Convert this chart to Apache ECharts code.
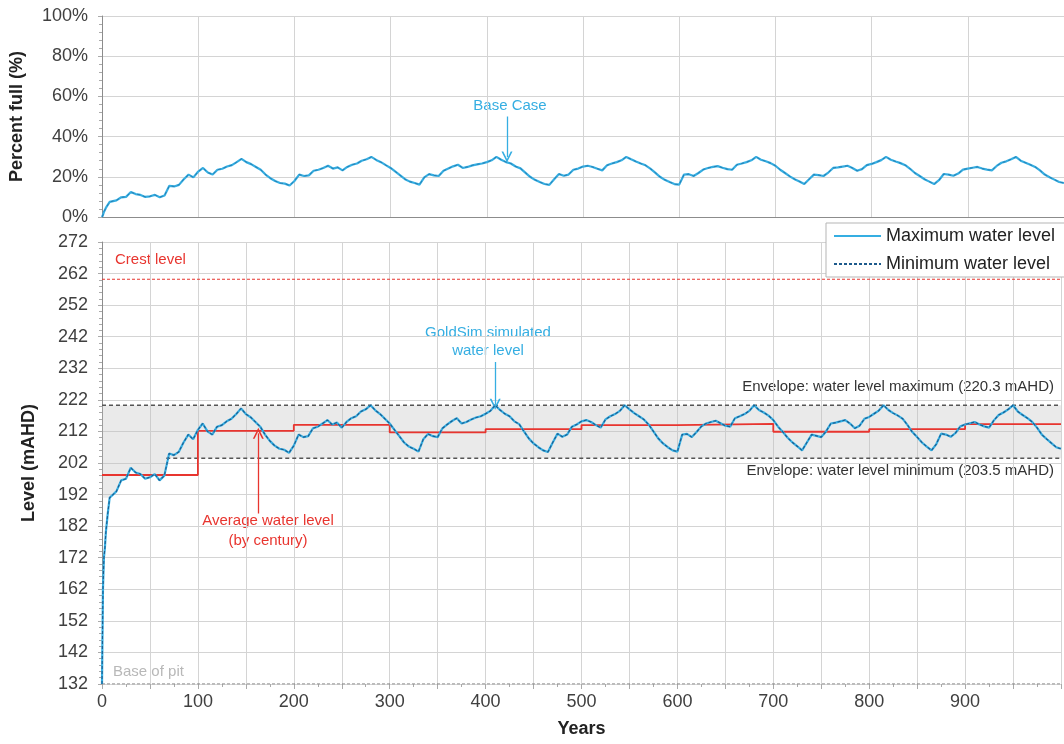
<!DOCTYPE html>
<html><head><meta charset="utf-8">
<script src="https://cdn.jsdelivr.net/npm/echarts@6/dist/echarts.min.js"></script>
<style>html,body{margin:0;padding:0;background:#fff}#c{width:1064px;height:744px}</style>
</head><body><div id="c"></div>
<script>
// ---------------- data ----------------
const years = [0,1,2,3,4,6,8,
10,15,20,25,30,35,40,45,50,55,60,65,70,75,80,85,90,95,
100,105,110,115,120,125,130,135,140,145,150,155,160,165,170,175,180,185,190,195,
200,205,210,215,220,225,230,235,240,245,250,255,260,265,270,275,280,285,290,295,
300,305,310,315,320,325,330,335,340,345,350,355,360,365,370,375,380,385,390,395,
400,405,410,415,420,425,430,435,440,445,450,455,460,465,470,475,480,485,490,495,
500,505,510,515,520,525,530,535,540,545,550,555,560,565,570,575,580,585,590,595,
600,605,610,615,620,625,630,635,640,645,650,655,660,665,670,675,680,685,690,695,
700,705,710,715,720,725,730,735,740,745,750,755,760,765,770,775,780,785,790,795,
800,805,810,815,820,825,830,835,840,845,850,855,860,865,870,875,880,885,890,895,
900,905,910,915,920,925,930,935,940,945,950,955,960,965,970,975,980,985,990,995,
1000];

const maxLevel = [132,162,172,175,180,186,191,
191.5,193,196.5,197,200.5,199,198.5,197,197.5,198.5,196.5,198,205,204.5,205.5,208.5,211,209.5,
212.5,214.5,212,211,213.5,214,215.2,216,217.5,219.3,217.5,216.5,215,213.5,211,209,207.5,206.5,206.2,205.2,
207.5,211,210.2,210.5,213,213.5,214.5,215.6,214.2,214.8,213.2,215,216.2,216.8,218.3,219,220.3,218.7,217.5,216,
214.5,212.5,210.5,208.5,207.2,206.5,205.6,209.5,211.2,210.5,210.2,213,214.2,215.3,216.2,214.5,215,215.8,216.4,216.8,
217.6,218.5,220.3,218.8,217.6,216.8,215.2,214.3,212,209.8,208.2,207,206,205.5,208.5,211.3,210.3,211,213.5,214.2,
215.2,215.6,215,214,213.2,215.8,216.8,217.5,218.5,220.3,219,217.8,216.8,215.8,214.2,212,209.8,208.2,207,206,
205.6,211,211.2,210.2,211.8,213.6,214.5,215,215.4,214.6,213.8,213.5,216.2,216.8,217.5,218.5,220.3,218.8,218,217,
215.6,213.5,211.8,210,208.5,207.3,206,208.5,211,210.6,210.2,212,214.5,214.8,215.2,215.6,214.5,213,213.8,216,
216.6,217.6,218.6,220.3,218.8,217.8,217,216,214,211.8,210.2,208.5,207.2,206,208,211.3,211,210.3,211.5,213.6,
214.2,214.6,215,214.2,213.6,213.2,215.5,217.2,218,219,220.3,218.3,217.2,216.2,215,213.2,211,209.6,208.3,207,
206.5];

const percentFull = [0,1,2.5,3,4.5,6,7.5,
7.7,8.3,9.8,10,12.4,11.4,11,10,10.3,11,9.8,10.7,15.5,15.2,16,18.8,21.1,19.7,
22.6,24.4,22.1,21.1,23.5,24,25.1,25.8,27.3,28.9,27.3,26.3,24.9,23.5,21.1,19.3,17.9,16.9,16.6,15.7,
17.9,21.1,20.4,20.7,23,23.5,24.4,25.5,24.1,24.7,23.2,24.9,26,26.6,28,28.7,29.9,28.4,27.3,25.8,
24.4,22.6,20.7,18.8,17.6,16.9,16.1,19.7,21.3,20.7,20.4,23,24.1,25.2,26,24.4,24.9,25.7,26.2,26.6,
27.3,28.2,29.9,28.5,27.3,26.6,25.1,24.2,22.1,20,18.5,17.4,16.4,16,18.8,21.4,20.5,21.1,23.5,24.1,
25.1,25.5,24.9,24,23.2,25.7,26.6,27.3,28.2,29.9,28.7,27.6,26.6,25.7,24.1,22.1,20,18.5,17.4,16.4,
16.1,21.1,21.3,20.4,21.9,23.6,24.4,24.9,25.3,24.5,23.8,23.5,26,26.6,27.3,28.2,29.9,28.5,27.7,26.8,
25.5,23.5,21.9,20.2,18.8,17.7,16.4,18.8,21.1,20.8,20.4,22.1,24.4,24.7,25.1,25.5,24.4,23,23.8,25.8,
26.4,27.3,28.3,29.9,28.5,27.6,26.8,25.8,24,21.9,20.4,18.8,17.6,16.4,18.3,21.4,21.1,20.5,21.6,23.6,
24.1,24.5,24.9,24.1,23.6,23.2,25.4,27,27.7,28.7,29.9,28,27,26,24.9,23.2,21.1,19.8,18.6,17.4,
16.9];

const centuryStart = [0,100,200,300,400,500,600,700,800,900,1000];
const centuryAvg   = [198.2,212.2,214.1,211.7,212.7,214.0,214.4,211.9,212.7,214.3,214.3];

const crestLevel = 260.2;
const basePit = 132;
const envelopeMax = 220.3;
const envelopeMin = 203.5;
const envelopeMinStart = 67;
const bandLowYears = [0,8,10,15,20,25,30,35,40,45,50,55,60,65,67,1000];
const bandLow      = [191,191,191.5,193,196.5,197,200.5,199,198.5,197,197.5,198.5,196.5,198,203.5,203.5];

const levelTicks = {min:132, max:272, interval:10};
const yearTicks = {min:0, max:1000};

// ---------------- chart ----------------
const FONT = 'Liberation Sans, Arial, sans-serif';
const CYAN = '#35aee2';
const DARKBLUE = '#1d5a8c';
const RED = '#e8352f';
const GRID = '#d4d4d4';
const TXT = '#404040';
const pair = (xs, ys) => xs.map((x, i) => [x, ys[i]]);
const chevron = 'path://M5,0 L10,10 L8.4,10 L5,3.2 L1.6,10 L0,10 Z';

const chart = echarts.init(document.getElementById('c'), null, {renderer: 'canvas'});

function arrow(color, from, to) {
  return {silent: true, symbol: ['none', chevron], symbolSize: 11, label: {show: false},
    emphasis: {disabled: true},
    lineStyle: {color: color, width: 1.3, type: 'solid'},
    data: [[{coord: from}, {coord: to}]]};
}

const option = {
  animation: false,
  backgroundColor: '#fff',
  textStyle: {fontFamily: FONT},
  grid: [
    {left: 102, top: 16, width: 964, height: 201},
    {left: 102, top: 242, width: 964, height: 442}
  ],
  xAxis: [
    {gridIndex: 0, type: 'value', min: yearTicks.min, max: yearTicks.max, interval: 100,
     axisLine: {show: true, lineStyle: {color: '#8c8c8c'}}, axisTick: {show: false},
     axisLabel: {show: false}, splitLine: {show: true, lineStyle: {color: GRID}}},
    {gridIndex: 1, type: 'value', min: yearTicks.min, max: yearTicks.max, interval: 50,
     name: 'Years', nameLocation: 'middle', nameGap: 36,
     nameTextStyle: {fontSize: 18, fontWeight: 'bold', color: '#222', fontFamily: FONT},
     axisLine: {show: false},
     axisTick: {show: true, length: 5, lineStyle: {color: '#aaa'}},
     minorTick: {show: true, splitNumber: 2, length: 3, lineStyle: {color: '#aaa'}},
     axisLabel: {fontSize: 18, color: TXT, margin: 9, fontFamily: FONT,
       formatter: v => (v % 100 === 0 && v < 1000) ? String(v) : ''},
     splitLine: {show: true, lineStyle: {color: GRID}}}
  ],
  yAxis: [
    {gridIndex: 0, type: 'value', min: 0, max: 100, interval: 20,
     name: 'Percent full (%)', nameLocation: 'middle', nameGap: 76, nameRotate: 90,
     nameTextStyle: {fontSize: 18, fontWeight: 'bold', color: '#222', fontFamily: FONT},
     axisLine: {show: true, lineStyle: {color: '#8c8c8c'}},
     axisTick: {show: true, length: 4, lineStyle: {color: '#aaa'}},
     minorTick: {show: true, splitNumber: 5, length: 3, lineStyle: {color: '#aaa'}},
     axisLabel: {fontSize: 18, color: TXT, margin: 14, formatter: '{value}%', fontFamily: FONT},
     splitLine: {show: true, lineStyle: {color: GRID}}},
    {gridIndex: 1, type: 'value', min: levelTicks.min, max: levelTicks.max, interval: levelTicks.interval,
     name: 'Level (mAHD)', nameLocation: 'middle', nameGap: 64, nameRotate: 90,
     nameTextStyle: {fontSize: 18, fontWeight: 'bold', color: '#222', fontFamily: FONT},
     axisLine: {show: true, lineStyle: {color: '#8c8c8c'}},
     axisTick: {show: true, length: 4, lineStyle: {color: '#aaa'}},
     minorTick: {show: true, splitNumber: 5, length: 3, lineStyle: {color: '#aaa'}},
     axisLabel: {fontSize: 18, color: TXT, margin: 14, fontFamily: FONT},
     splitLine: {show: true, lineStyle: {color: GRID}}}
  ],
  legend: {
    orient: 'vertical', left: 826, top: 223,
    padding: [4, 12, 4, 7], itemGap: 10, itemWidth: 47, itemHeight: 18,
    backgroundColor: '#fff', borderColor: '#b5b5b5', borderWidth: 1, borderRadius: 0,
    itemStyle: {color: 'rgba(0,0,0,0)', borderColor: 'rgba(0,0,0,0)', borderWidth: 0, opacity: 0},
    textStyle: {fontSize: 18, color: '#222', fontFamily: FONT},
    data: ['Maximum water level', 'Minimum water level']
  },
  series: [
    // envelope band
    {type: 'custom', xAxisIndex: 1, yAxisIndex: 1, silent: true, clip: true, z: 1,
     data: [[0, envelopeMax]],
     renderItem: function (params, api) {
       const pts = [];
       pts.push(api.coord([bandLowYears[0], envelopeMax]));
       pts.push(api.coord([bandLowYears[bandLowYears.length - 1], envelopeMax]));
       for (let i = bandLowYears.length - 1; i >= 0; i--) pts.push(api.coord([bandLowYears[i], bandLow[i]]));
       return {type: 'polygon', shape: {points: pts}, style: {fill: 'rgba(190,190,190,0.32)'}};
     }},
    // envelope max / min dashed lines
    {type: 'line', xAxisIndex: 1, yAxisIndex: 1, silent: true, symbol: 'none', z: 3,
     data: [[0, envelopeMax], [yearTicks.max, envelopeMax]],
     lineStyle: {color: '#555', width: 1.6, type: [4, 3]}},
    {type: 'line', xAxisIndex: 1, yAxisIndex: 1, silent: true, symbol: 'none', z: 3,
     data: [[envelopeMinStart, envelopeMin], [yearTicks.max, envelopeMin]],
     lineStyle: {color: '#555', width: 1.6, type: [4, 3]}},
    // crest level
    {type: 'line', xAxisIndex: 1, yAxisIndex: 1, silent: true, symbol: 'none', z: 3,
     data: [[0, crestLevel], [yearTicks.max, crestLevel]],
     lineStyle: {color: RED, width: 1.2, type: [3, 2]}},
    // base of pit
    {type: 'line', xAxisIndex: 1, yAxisIndex: 1, silent: true, symbol: 'none', z: 3,
     data: [[0, basePit], [yearTicks.max, basePit]],
     lineStyle: {color: '#777', width: 1, type: [3, 2]}},
    // average by century
    {type: 'line', xAxisIndex: 1, yAxisIndex: 1, silent: true, symbol: 'none', step: 'end', z: 4,
     data: pair(centuryStart, centuryAvg),
     lineStyle: {color: RED, width: 1.8},
     markLine: arrow(RED, [163, 186], [163, 211.4])},
    // maximum water level
    {name: 'Maximum water level', type: 'line', xAxisIndex: 1, yAxisIndex: 1, symbol: 'none', z: 5,
     data: pair(years, maxLevel),
     itemStyle: {color: CYAN}, lineStyle: {color: CYAN, width: 2.2},
     markLine: arrow(CYAN, [410, 234], [410, 220.6])},
    // minimum water level
    {name: 'Minimum water level', type: 'line', xAxisIndex: 1, yAxisIndex: 1, symbol: 'none', z: 6,
     data: pair(years, maxLevel),
     itemStyle: {color: DARKBLUE}, lineStyle: {color: DARKBLUE, width: 1.1, type: [3, 2]}},
    // percent full
    {type: 'line', xAxisIndex: 0, yAxisIndex: 0, symbol: 'none', z: 5, silent: true,
     data: pair(years, percentFull),
     lineStyle: {color: CYAN, width: 2.2},
     markLine: arrow(CYAN, [421, 50], [421, 29.8])},
    {type: 'line', xAxisIndex: 0, yAxisIndex: 0, symbol: 'none', z: 6, silent: true,
     data: pair(years, percentFull),
     lineStyle: {color: DARKBLUE, width: 1, type: [3, 3], opacity: 0.55}}
  ],
  graphic: [
    {type: 'text', x: 510, y: 106, silent: true, style: {text: 'Base Case', align: 'center', verticalAlign: 'middle', font: '15px ' + FONT, fill: CYAN}},
    {type: 'text', x: 488, y: 342, silent: true, style: {text: 'GoldSim simulated\nwater level', align: 'center', verticalAlign: 'middle', lineHeight: 18, font: '15px ' + FONT, fill: CYAN}},
    {type: 'text', x: 268, y: 531, silent: true, style: {text: 'Average water level\n(by century)', align: 'center', verticalAlign: 'middle', lineHeight: 20, font: '15px ' + FONT, fill: RED}},
    {type: 'text', x: 115, y: 260, silent: true, style: {text: 'Crest level', align: 'left', verticalAlign: 'middle', font: '15px ' + FONT, fill: RED}},
    {type: 'text', x: 113, y: 672, silent: true, style: {text: 'Base of pit', align: 'left', verticalAlign: 'middle', font: '15px ' + FONT, fill: '#b8b8b8'}},
    {type: 'text', x: 1054, y: 387, silent: true, style: {text: 'Envelope: water level maximum (220.3 mAHD)', align: 'right', verticalAlign: 'middle', font: '15px ' + FONT, fill: '#333'}},
    {type: 'text', x: 1054, y: 471, silent: true, style: {text: 'Envelope: water level minimum (203.5 mAHD)', align: 'right', verticalAlign: 'middle', font: '15px ' + FONT, fill: '#333'}}
  ]
};
chart.setOption(option);
</script>
</body></html>
